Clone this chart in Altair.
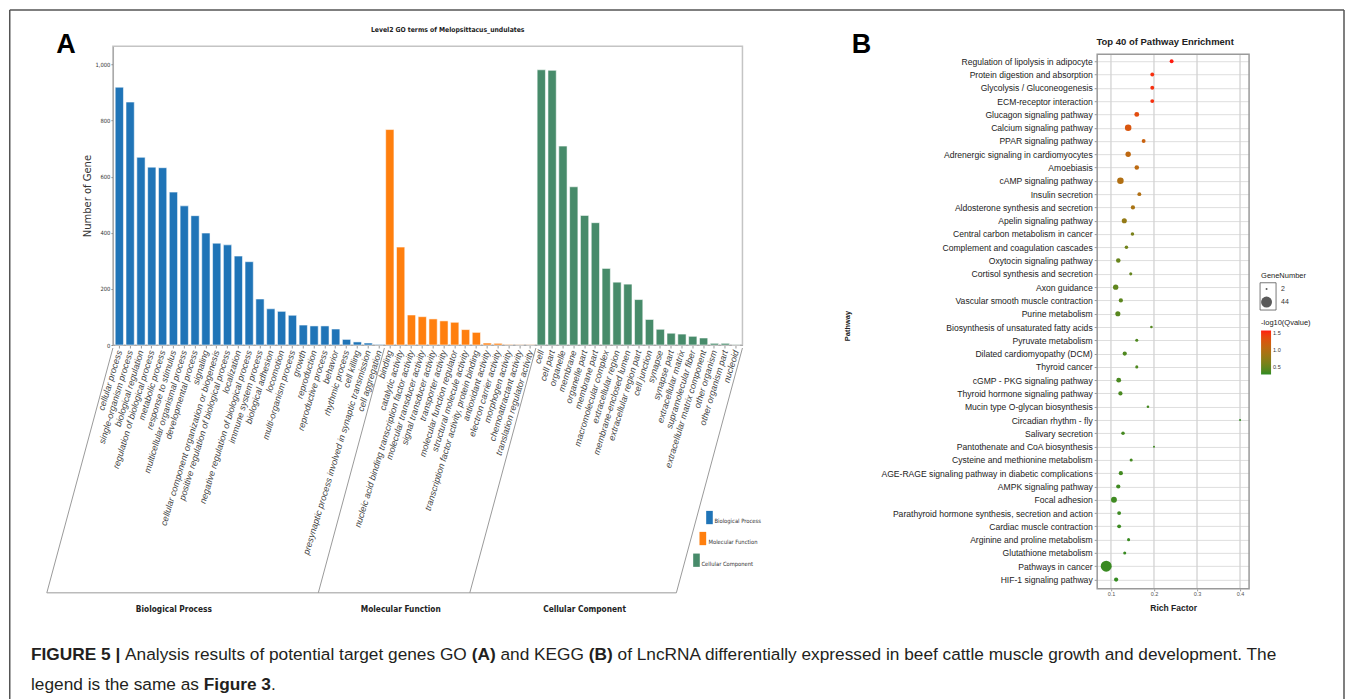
import json
import altair as alt
import pandas as pd

# ---------------- Panel A : GO level-2 terms ----------------
bp_terms = ["cellular process", "single-organism process", "biological regulation",
            "regulation of biological process", "metabolic process", "response to stimulus",
            "multicellular organismal process", "developmental process", "signaling",
            "cellular component organization or biogenesis",
            "positive regulation of biological process", "localization",
            "negative regulation of biological process", "immune system process",
            "biological adhesion", "locomotion", "multi-organism process", "growth",
            "reproduction", "reproductive process", "behavior", "rhythmic process",
            "cell killing", "presynaptic process involved in synaptic transmission",
            "cell aggregation"]
bp_counts = [919, 866, 669, 634, 632, 545, 496, 461, 399, 363, 357, 317, 297, 164, 129,
             120, 106, 71, 68, 68, 57, 20, 11, 7, 2]
mf_terms = ["binding", "catalytic activity",
            "nucleic acid binding transcription factor activity",
            "molecular transducer activity", "signal transducer activity",
            "transporter activity", "molecular function regulator",
            "structural molecule activity", "transcription factor activity, protein binding",
            "antioxidant activity", "electron carrier activity", "morphogen activity",
            "chemoattractant activity", "translation regulator activity"]
mf_counts = [768, 349, 107, 101, 93, 86, 81, 55, 45, 7, 6, 2, 1, 1]
cc_terms = ["cell", "cell part", "organelle", "membrane", "organelle part", "membrane part",
            "macromolecular complex", "extracellular region", "membrane-enclosed lumen",
            "extracellular region part", "cell junction", "synapse", "synapse part",
            "extracellular matrix", "supramolecular fiber", "extracellular matrix component",
            "other organism", "other organism part", "nucleoid"]
cc_counts = [981, 979, 709, 564, 462, 436, 273, 224, 217, 162, 91, 56, 42, 39, 31, 25, 6, 6, 1]
go_groups = ["Biological Process", "Molecular Function", "Cellular Component"]
go_colors = ["#1f74b7", "#ff7f0e", "#478b6a"]
go_y_ticks = [0, 200, 400, 600, 800, 1000]
go_title = "Level2 GO terms of Melopsittacus_undulates"

# ---------------- Panel B : KEGG top 40 ----------------
pathways = ["Regulation of lipolysis in adipocyte", "Protein digestion and absorption",
            "Glycolysis / Gluconeogenesis", "ECM-receptor interaction",
            "Glucagon signaling pathway", "Calcium signaling pathway",
            "PPAR signaling pathway", "Adrenergic signaling in cardiomyocytes", "Amoebiasis",
            "cAMP signaling pathway", "Insulin secretion", "Aldosterone synthesis and secretion",
            "Apelin signaling pathway", "Central carbon metabolism in cancer",
            "Complement and coagulation cascades", "Oxytocin signaling pathway",
            "Cortisol synthesis and secretion", "Axon guidance",
            "Vascular smooth muscle contraction", "Purine metabolism",
            "Biosynthesis of unsaturated fatty acids", "Pyruvate metabolism",
            "Dilated cardiomyopathy (DCM)", "Thyroid cancer", "cGMP - PKG signaling pathway",
            "Thyroid hormone signaling pathway", "Mucin type O-glycan biosynthesis",
            "Circadian rhythm - fly", "Salivary secretion", "Pantothenate and CoA biosynthesis",
            "Cysteine and methionine metabolism",
            "AGE-RAGE signaling pathway in diabetic complications", "AMPK signaling pathway",
            "Focal adhesion", "Parathyroid hormone synthesis, secretion and action",
            "Cardiac muscle contraction", "Arginine and proline metabolism",
            "Glutathione metabolism", "Pathways in cancer", "HIF-1 signaling pathway"]
rich_factor = [0.241, 0.196, 0.196, 0.196, 0.160, 0.140, 0.176, 0.140, 0.160, 0.122,
               0.166, 0.151, 0.131, 0.150, 0.136, 0.117, 0.146, 0.111, 0.123, 0.116,
               0.194, 0.160, 0.132, 0.160, 0.118, 0.122, 0.186, 0.400, 0.128, 0.200,
               0.147, 0.123, 0.117, 0.107, 0.119, 0.119, 0.141, 0.132, 0.089, 0.112]
gene_number = [6, 6, 6, 6, 9, 16, 6, 11, 8, 16, 6, 7, 10, 5, 5, 8, 4, 11, 7, 10,
               3, 4, 7, 4, 9, 7, 3, 2, 5, 2, 4, 7, 7, 13, 6, 6, 4, 4, 44, 7]
neg_log10_q = [1.58, 1.52, 1.52, 1.52, 1.36, 1.28, 1.16, 1.08, 1.06, 0.98, 0.98, 0.92,
               0.78, 0.62, 0.56, 0.52, 0.50, 0.48, 0.46, 0.44, 0.42, 0.40, 0.40, 0.40,
               0.38, 0.38, 0.36, 0.30, 0.36, 0.34, 0.36, 0.35, 0.34, 0.34, 0.33, 0.33,
               0.32, 0.32, 0.32, 0.31]
rich_ticks = [0.1, 0.2, 0.3, 0.4]
size_legend_values = [2, 44]
q_legend_values = [0.5, 1.0, 1.5]
kegg_title = "Top 40 of Pathway Enrichment"

# ---------------- caption ----------------
caption_line1 = [("FIGURE 5 |", True), (" Analysis results of potential target genes GO ", False),
                 ("(A)", True), (" and KEGG ", False), ("(B)", True),
                 (" of LncRNA differentially expressed in beef cattle muscle growth and development. The", False)]
caption_line2 = [("legend is the same as ", False), ("Figure 3", True), (".", False)]

# ---------------- fonts / helpers ----------------
SANS = "Liberation Sans, Arial, Helvetica, sans-serif"
NARROW = "Liberation Sans Narrow, Arial Narrow, DejaVu Sans Condensed, sans-serif"

REG = dict(zip("abcdefghijklmnopqrstuvwxyz",
               [556, 556, 500, 556, 556, 278, 556, 556, 222, 222, 500, 222, 833, 556, 556,
                556, 556, 333, 500, 278, 556, 500, 722, 500, 500, 500]))
REG.update({"A": 667, "B": 667, "E": 667, "F": 611, "G": 778, "K": 667, "L": 556, "N": 722,
            "O": 778, "R": 722, "T": 611, " ": 278, ".": 278, "(": 333, ")": 333, "|": 260,
            "3": 556, "5": 556})
BOLD = dict(zip("abcdefghijklmnopqrstuvwxyz",
                [556, 611, 556, 611, 556, 333, 611, 611, 278, 278, 556, 278, 889, 611, 611,
                 611, 611, 389, 556, 333, 611, 556, 778, 556, 556, 500]))
BOLD.update({"A": 722, "B": 722, "E": 667, "F": 611, "G": 778, "I": 278, "R": 722, "U": 722,
             " ": 278, "(": 333, ")": 333, "|": 280, "3": 556, "5": 556, ".": 278})


def text_w(s, bold):
    tab = BOLD if bold else REG
    return sum(tab.get(c, 556) for c in s) / 1000.0


one = pd.DataFrame({"k": [0]})


def rule(x1, y1, x2, y2, color="#999999", width=1.0):
    return alt.Chart(one).mark_rule(color=color, strokeWidth=width).encode(
        x=alt.value(x1), y=alt.value(y1), x2=alt.value(x2), y2=alt.value(y2))


def label(s, x, y, **kw):
    return alt.Chart(one).mark_text(text=s, **kw).encode(x=alt.value(x), y=alt.value(y))


def box(x1, y1, x2, y2, **kw):
    return alt.Chart(one).mark_rect(**kw).encode(
        x=alt.value(x1), x2=alt.value(x2), y=alt.value(y1), y2=alt.value(y2))


# ---------------- Panel A chart ----------------
WL, HL = 630, 299
terms = bp_terms + mf_terms + cc_terms
counts = bp_counts + mf_counts + cc_counts
groups = ([go_groups[0]] * len(bp_terms) + [go_groups[1]] * len(mf_terms)
          + [go_groups[2]] * len(cc_terms))
go_df = pd.DataFrame({"term": terms, "count": counts, "group": groups})

P_IN, P_OUT = 0.236, 0.21
bars = alt.Chart(go_df).mark_bar(stroke="white", strokeWidth=1, strokeOpacity=0.55).encode(
    x=alt.X("term:N", sort=terms,
            scale=alt.Scale(paddingInner=P_IN, paddingOuter=P_OUT),
            axis=alt.Axis(title=None, labelAngle=287, labelFontStyle="italic",
                          labelFont=SANS, labelFontSize=9, labelColor="#444444",
                          labelLimit=400, labelOverlap=False, labelPadding=2,
                          tickSize=3, tickColor="#999999", domainColor="#aaaaaa",
                          domainWidth=1.2)),
    y=alt.Y("count:Q", scale=alt.Scale(domain=[0, 1065], nice=False),
            axis=alt.Axis(values=go_y_ticks, format=",.0f", grid=False,
                          title="Number of Gene", titleFont="DejaVu Sans", titleFontSize=10,
                          titleFontWeight="normal", titleColor="#333333", titlePadding=3,
                          labelFont=NARROW, labelFontSize=5.8, labelColor="#333333",
                          labelPadding=1, tickSize=2, tickColor="#888888",
                          domainColor="#aaaaaa", domainWidth=1.2)),
    color=alt.Color("group:N", scale=alt.Scale(domain=go_groups, range=go_colors), legend=None),
)

# skewed group frame under the axis
n_all = len(terms)
step = WL / (n_all - P_IN + 2 * P_OUT)


def boundary(k):
    return P_OUT * step + k * step - P_IN * step / 2


top_y, bot_y, slope = HL + 3, 547, 0.27
shift = slope * (bot_y - top_y)
tops = [0, boundary(len(bp_terms)), boundary(len(bp_terms) + len(mf_terms)), WL]
frame_layers = [rule(t, top_y, t - shift, bot_y, "#9a9a9a", 1) for t in tops]
frame_layers.append(rule(tops[0] - shift, bot_y, tops[-1] - shift, bot_y, "#9a9a9a", 1))

group_x = [61, 288, 472]
group_labels = [label(g, gx, 564, font=NARROW, fontSize=8.3, fontWeight="bold",
                      color="#222222", align="center", baseline="middle")
                for g, gx in zip(go_groups, group_x)]

leg_rects = [(593.7, 465, 600.3, 478.3), (587, 486, 593.7, 499.3), (580.7, 507.7, 587.3, 521)]
leg_texts = [(602, 475), (596, 496), (589, 517.7)]
legend_layers = []
for g, c, r, t in zip(go_groups, go_colors, leg_rects, leg_texts):
    legend_layers.append(box(*r, color=c))
    legend_layers.append(label(g, t[0], t[1], font=NARROW, fontSize=5.8, color="#333333",
                               align="left", baseline="middle"))

# outer figure frame (left, top, right)
FX0, FY0, FX1, FY1 = -103.25, -36.25, 1232, 670
outer = [rule(FX0, FY0, FX0, FY1, "#555555", 1.5), rule(FX0, FY0, FX1, FY0, "#555555", 1.5),
         rule(FX1, FY0, FX1, FY1, "#555555", 1.5)]

title_a = label(go_title, 335, -16, font=NARROW, fontSize=6.8, fontWeight="bold",
                color="#222222", align="center", baseline="middle")
letter_a = label("A", -47, 7, font=SANS, fontSize=27, fontWeight="bold", color="#000000",
                 align="center", baseline="alphabetic")

# caption (svg collapses edge spaces, so they are turned into offsets)
line_w = sum(text_w(s, b) for s, b in caption_line1)
cap_fs = 1248 / line_w
cap_layers = []
for line, base in ((caption_line1, 614), (caption_line2, 644)):
    cx = -82
    for s, b in line:
        lead = len(s) - len(s.lstrip(" "))
        core = s.strip(" ")
        cap_layers.append(label(core, cx + text_w(" " * lead, b) * cap_fs, base, font=SANS,
                                fontSize=cap_fs, fontWeight="bold" if b else "normal",
                                color="#231f20", align="left", baseline="alphabetic"))
        cx += text_w(s, b) * cap_fs

left = alt.layer(*(outer + frame_layers + [bars] + group_labels + legend_layers
                   + [title_a, letter_a] + cap_layers)).properties(
    width=WL, height=HL,
    view=alt.ViewBackground(stroke="#c4c4c4", strokeWidth=1.5))

# ---------------- Panel B chart ----------------
WR, HR = 152, 543
k_df = pd.DataFrame({"pathway": pathways, "rich": rich_factor, "genes": gene_number,
                     "q": neg_log10_q, "row": list(range(len(pathways)))})
x_scale = alt.Scale(domain=[0.068, 0.421], nice=False, zero=False)
y_scale = alt.Scale(domain=[-1.128, 39.70], reverse=True, nice=False, zero=False)

grid_v = alt.Chart(pd.DataFrame({"t": rich_ticks})).mark_rule(
    color="#d2d2d2", strokeWidth=1.3).encode(
    x=alt.X("t:Q", scale=x_scale), y=alt.value(8), y2=alt.value(HR))

points = alt.Chart(k_df).mark_circle(opacity=1).encode(
    x=alt.X("rich:Q", scale=x_scale,
            axis=alt.Axis(values=rich_ticks, format=".1f", grid=False, domain=False,
                          tickSize=2, tickColor="#999999", labelFont=SANS, labelFontSize=5.5,
                          labelColor="#555555", labelPadding=1, title="Rich Factor",
                          titleFont=SANS, titleFontSize=8.5, titleFontWeight="bold",
                          titleColor="#222222", titlePadding=6)),
    y=alt.Y("row:Q", scale=y_scale,
            axis=alt.Axis(values=list(range(len(pathways))),
                          labelExpr=json.dumps(pathways) + "[datum.value]",
                          grid=True, gridColor="#dedede", gridWidth=1, domain=False,
                          tickSize=3, tickColor="#999999", labelFont=SANS, labelFontSize=8.6,
                          labelColor="#222222", labelPadding=2, labelLimit=400,
                          labelOverlap=False, title=None)),
    size=alt.Size("genes:Q", scale=alt.Scale(domain=[2, 44], range=[4, 120]),
                  legend=alt.Legend(title="GeneNumber", orient="none", legendX=164,
                                    legendY=226, values=size_legend_values, padding=0,
                                    titleFont=SANS, titleFontSize=7.5, titleFontWeight="normal",
                                    titleColor="#222222", titlePadding=6, labelFont=SANS,
                                    labelFontSize=7, labelColor="#333333",
                                    symbolFillColor="#5a5a5a", symbolStrokeWidth=0,
                                    labelOffset=9, rowPadding=4)),
    color=alt.Color("q:Q", scale=alt.Scale(domain=[0.29, 1.58],
                                          range=["#2e8b22", "#ff1a0f"], interpolate="lab"),
                    legend=alt.Legend(title="-log10(Qvalue)", orient="none", legendX=164,
                                      legendY=273, values=q_legend_values, format=".1f",
                                      direction="vertical", gradientLength=44,
                                      gradientThickness=10, padding=0, titleFont=SANS,
                                      titleFontSize=7.5, titleFontWeight="normal",
                                      titleColor="#222222", titlePadding=4, labelFont=SANS,
                                      labelFontSize=5.5, labelColor="#333333",
                                      gradientStrokeWidth=0)),
)

border_b = box(0, 8, WR, HR, fillOpacity=0, stroke="#9a9a9a", strokeWidth=1.5)
size_box = box(163, 236.7, 179, 264, fillOpacity=0, stroke="#555555", strokeWidth=0.8)
title_b = label(kegg_title, 68, -4.3, font=SANS, fontSize=9.5, fontWeight="bold",
                color="#222222", align="center", baseline="middle")
letter_b = label("B", -236, 7, font=SANS, fontSize=27, fontWeight="bold", color="#000000",
                 align="center", baseline="alphabetic")
pathway_t = label("Pathway", -249, 280, font=SANS, fontSize=7.5, fontWeight="bold",
                  color="#222222", align="center", baseline="middle", angle=270)

right = alt.layer(grid_v, border_b, points, size_box, title_b, letter_b, pathway_t).properties(
    width=WR, height=HR)

chart = alt.HConcatChart(
    hconcat=[left, right], spacing=355, bounds="flush",
    padding={"left": 0, "top": 0, "right": 0, "bottom": 0},
).resolve_scale(color="independent", size="independent").configure_view(
    stroke="transparent")

chart.save("out.html", embed_options={"renderer": "svg", "actions": False})
